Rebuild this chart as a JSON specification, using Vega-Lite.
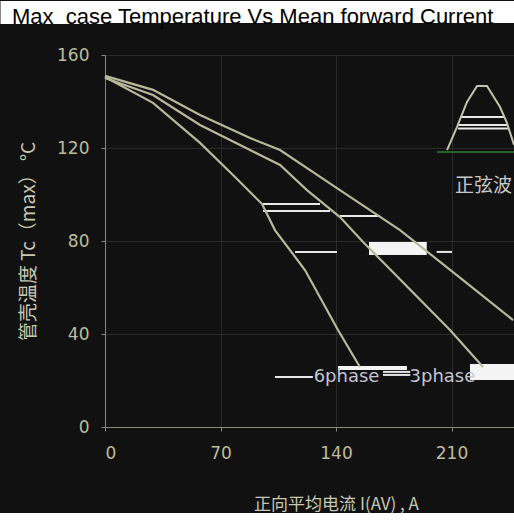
{
  "$schema": "https://vega.github.io/schema/vega-lite/v6.json",
  "background": "#111111",
  "padding": {"left": -12, "top": 0, "right": 0, "bottom": 0},
  "columns": 1,
  "bounds": "full",
  "spacing": 17,
  "datasets": {
    "title": [{"title": "Max\u00a0 case Temperature Vs Mean forward Current"}],
    "curves": [
      {"curve": "6phase", "x": 0, "y": 150.5},
      {"curve": "6phase", "x": 29.1, "y": 139.4},
      {"curve": "6phase", "x": 57.6, "y": 122.2},
      {"curve": "6phase", "x": 79.4, "y": 107.1},
      {"curve": "6phase", "x": 95.2, "y": 95.9},
      {"curve": "6phase", "x": 103.0, "y": 84.7},
      {"curve": "6phase", "x": 121.2, "y": 67.5},
      {"curve": "6phase", "x": 141.2, "y": 41.7},
      {"curve": "6phase", "x": 154.5, "y": 25.8},
      {"curve": "3phase", "x": 0, "y": 150.1},
      {"curve": "3phase", "x": 29.1, "y": 142.8},
      {"curve": "3phase", "x": 57.6, "y": 129.9},
      {"curve": "3phase", "x": 87.9, "y": 119.1},
      {"curve": "3phase", "x": 106.1, "y": 112.7},
      {"curve": "3phase", "x": 122.4, "y": 101.9},
      {"curve": "3phase", "x": 142.4, "y": 90.3},
      {"curve": "3phase", "x": 156.4, "y": 79.6},
      {"curve": "3phase", "x": 209.1, "y": 41.7},
      {"curve": "3phase", "x": 229.1, "y": 25.8},
      {"curve": "upper", "x": 0, "y": 151.0},
      {"curve": "upper", "x": 29.1, "y": 145.0},
      {"curve": "upper", "x": 57.6, "y": 134.2},
      {"curve": "upper", "x": 87.9, "y": 124.3},
      {"curve": "upper", "x": 106.1, "y": 119.1},
      {"curve": "upper", "x": 142.4, "y": 101.9},
      {"curve": "upper", "x": 178.8, "y": 84.7},
      {"curve": "upper", "x": 217.0, "y": 63.2},
      {"curve": "upper", "x": 247.3, "y": 46.0}
    ],
    "sine": [
      {"x": 207.3, "y": 119.1},
      {"x": 213.3, "y": 129.0},
      {"x": 219.4, "y": 139.8},
      {"x": 225.5, "y": 146.7},
      {"x": 231.5, "y": 146.7},
      {"x": 239.4, "y": 137.6},
      {"x": 243.6, "y": 130.8},
      {"x": 247.9, "y": 121.3}
    ],
    "base": [{"x": 201.2, "x2": 270, "y": 118.3}],
    "leaders": [
      {"x": 95.2, "x2": 130.3, "y": 95.9},
      {"x": 95.8, "x2": 136.4, "y": 92.9},
      {"x": 142.4, "x2": 166.7, "y": 90.8},
      {"x": 115.2, "x2": 140.6, "y": 75.3},
      {"x": 201.0, "x2": 210.3, "y": 75.3},
      {"x": 215.2, "x2": 242.4, "y": 133.3},
      {"x": 214.0, "x2": 244.2, "y": 129.9},
      {"x": 214.0, "x2": 244.2, "y": 128.4},
      {"x": 103.0, "x2": 126.0, "y": 21.5},
      {"x": 168.5, "x2": 185.0, "y": 23.7},
      {"x": 168.5, "x2": 185.0, "y": 22.4}
    ],
    "boxes": [
      {"x": 160.0, "x2": 195.0, "y": 74.0, "y2": 79.6},
      {"x": 141.2, "x2": 183.0, "y": 24.5, "y2": 26.2},
      {"x": 221.2, "x2": 248.0, "y": 20.2, "y2": 27.1}
    ],
    "labels": [
      {"label": "6phase", "x": 146.4, "y": 21.5},
      {"label": "3phase", "x": 204.5, "y": 21.5}
    ],
    "cnlabels": [{"label": "正弦波", "x": 212.1, "y": 103.7}]
  },
  "concat": [
    {
      "width": 514,
      "height": 22,
      "view": {"fill": "white", "stroke": null},
      "data": {"name": "title"},
      "mark": {"type": "text", "align": "left", "baseline": "alphabetic", "font": "Liberation Sans", "fontSize": 22, "color": "black", "dx": -93, "dy": 1},
      "encoding": {
        "x": {"datum": 0, "type": "quantitative", "scale": {"domain": [0, 1]}, "axis": null},
        "y": {
          "datum": 0, "type": "quantitative", "scale": {"domain": [0, 1]},
          "axis": {"values": [0.5], "ticks": true, "tickSize": 105, "tickWidth": 23, "tickColor": "white", "tickCap": "butt", "labels": false, "domain": false, "grid": false, "title": null}
        },
        "text": {"field": "title"}
      }
    },
    {
      "width": 462,
      "height": 372,
      "view": {"fill": "#111111", "stroke": "#707070", "strokeWidth": 1},
      "encoding": {
        "x": {
          "field": "x", "type": "quantitative",
          "scale": {"domain": [0, 280], "nice": false, "zero": false},
          "axis": {
            "values": [0, 70, 140, 210],
            "title": "正向平均电流 I(AV) , A",
            "grid": true, "gridColor": "#2a2a2a",
            "domainColor": "#8a8a80", "tickColor": "#8a8a80", "tickSize": 4,
            "labelColor": "#bcbc9c", "labelFont": "DejaVu Sans", "labelFontSize": 17, "labelPadding": 14,
            "titleColor": "#c8c8b4", "titleFont": "Noto Sans CJK SC", "titleFontSize": 17, "titleFontWeight": "normal", "titlePadding": 35
          }
        },
        "y": {
          "field": "y", "type": "quantitative",
          "scale": {"domain": [0, 160], "nice": false},
          "axis": {
            "values": [0, 40, 80, 120, 160],
            "title": "管壳温度 Tc（max） °C",
            "grid": true, "gridColor": "#2a2a2a",
            "domainColor": "#8a8a6c", "tickColor": "#8a8a80", "tickSize": 4,
            "labelColor": "#bcbc9c", "labelFont": "DejaVu Sans", "labelFontSize": 17, "labelPadding": 12,
            "titleColor": "#c8c8b4", "titleFont": "Noto Sans CJK SC", "titleFontSize": 19, "titleFontWeight": "normal", "titlePadding": 18
          }
        }
      },
      "layer": [
        {
          "data": {"name": "boxes"},
          "mark": {"type": "rect", "color": "#f4f4f4"},
          "encoding": {"x2": {"field": "x2"}, "y2": {"field": "y2"}}
        },
        {
          "data": {"name": "leaders"},
          "mark": {"type": "rule", "color": "#e8e8e8", "strokeWidth": 2},
          "encoding": {"x2": {"field": "x2"}}
        },
        {
          "data": {"name": "base"},
          "mark": {"type": "rule", "color": "#2f7d2f", "strokeWidth": 1.5},
          "encoding": {"x2": {"field": "x2"}}
        },
        {
          "data": {"name": "curves"},
          "mark": {"type": "line", "color": "#b8b89c", "strokeWidth": 2.2},
          "encoding": {"detail": {"field": "curve"}}
        },
        {
          "data": {"name": "sine"},
          "mark": {"type": "line", "color": "#c4c4ac", "strokeWidth": 2},
          "encoding": {}
        },
        {
          "data": {"name": "labels"},
          "mark": {"type": "text", "align": "center", "baseline": "middle", "font": "DejaVu Sans", "fontSize": 18, "color": "#c4c4d4"},
          "encoding": {"text": {"field": "label"}}
        },
        {
          "data": {"name": "cnlabels"},
          "mark": {"type": "text", "align": "left", "baseline": "middle", "font": "Noto Sans CJK SC", "fontSize": 19, "color": "#cacaca"},
          "encoding": {"text": {"field": "label"}}
        }
      ]
    }
  ]
}
